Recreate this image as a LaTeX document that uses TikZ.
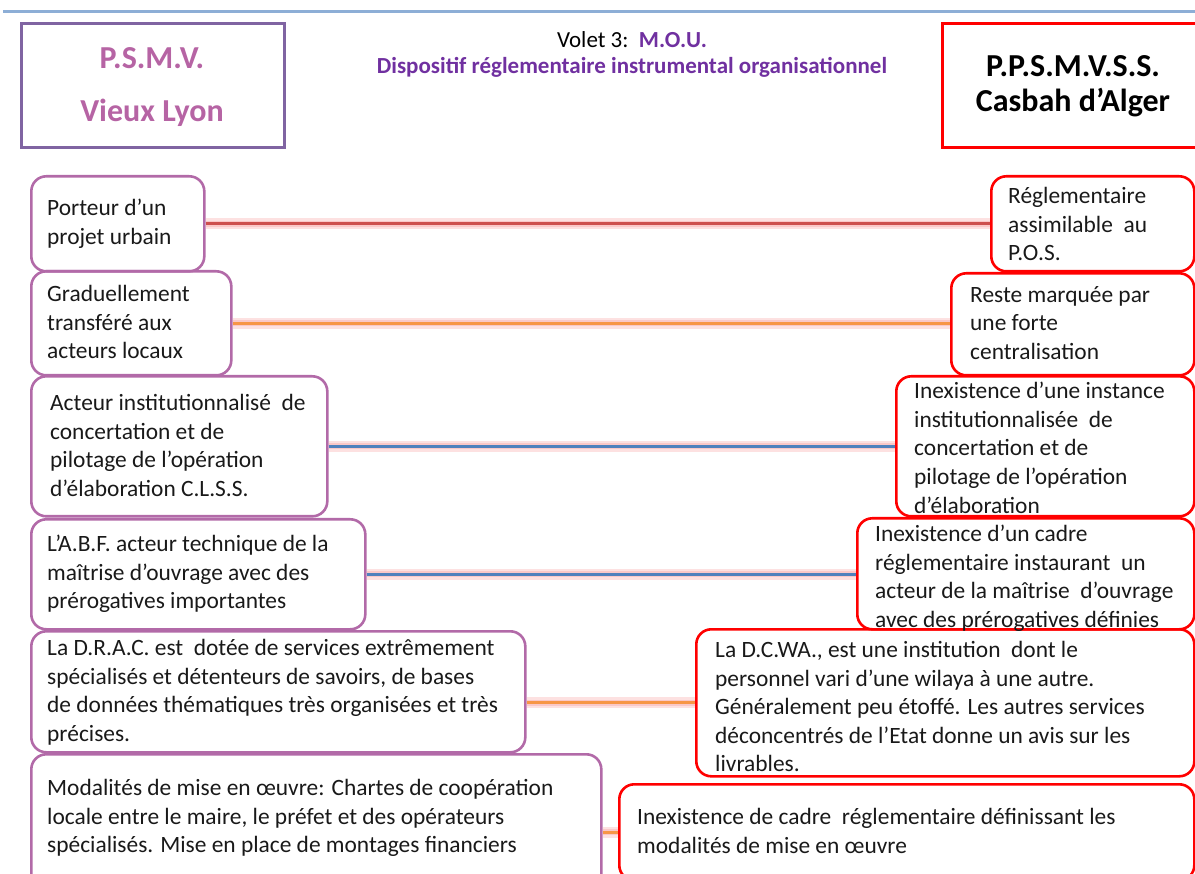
\documentclass[tikz,border=0pt]{standalone}
\usepackage{fontspec}
\setmainfont{Carlito}
\definecolor{rulebl}{RGB}{141,174,214}
\definecolor{hdpurple}{RGB}{128,100,162}
\definecolor{hdtext}{RGB}{182,100,164}
\definecolor{titlepurple}{RGB}{112,48,160}
\definecolor{lpurple}{RGB}{178,106,168}
\definecolor{cred}{RGB}{205,80,78}
\definecolor{corange}{RGB}{247,150,70}
\definecolor{cblue}{RGB}{79,129,189}
\definecolor{glowpink}{RGB}{248,170,170}
\begin{document}
\begin{tikzpicture}[x=1pt,y=-1pt,
  lbox/.style={draw=lpurple,line width=2.6pt,rounded corners=15pt,inner sep=0pt,anchor=north west},
  rbox/.style={draw=red,line width=2.6pt,rounded corners=15pt,inner sep=0pt,anchor=north west},
  hbox/.style={line width=3pt,inner sep=0pt,anchor=north west},
  txt/.style={anchor=north west,inner sep=0pt,align=left,text=black!90,
    font=\fontsize{23.4}{28.6}\selectfont,execute at begin node=\rule{0pt}{17pt}},
  hdtxt/.style={anchor=base,inner sep=0pt,font=\fontsize{32}{36}\selectfont\bfseries},
  glow/.style={line width=11pt,draw=glowpink,opacity=0.35},
  glowin/.style={line width=6pt,draw=glowpink,opacity=0.45},
  link/.style={line width=2.8pt}]
\useasboundingbox (0,0) rectangle (1195,874);
\clip (0,0) rectangle (1195,874);

% top rule
\coordinate (ruleL) at (3,12);
\coordinate (ruleR) at (1195,12);
\draw[rulebl,line width=3pt] (ruleL) -- (ruleR);

% header boxes
\node[hbox,draw=hdpurple,minimum width=263pt,minimum height=124pt] (hl) at (20,22) {};
\node[hdtxt,text=hdtext] (hl1) at (152,69) {P.S.M.V.};
\node[hdtxt,text=hdtext] (hl2) at (152,122) {Vieux Lyon};

\node[hbox,draw=red,minimum width=270pt,minimum height=124pt] (hr) at (941,22) {};
\node[hdtxt,text=black] (hr1) at (1073,77) {P.P.S.M.V.S.S.};
\node[hdtxt,text=black] (hr2) at (1073,112) {Casbah d’Alger};

% title
\node[anchor=base,inner sep=0pt,font=\fontsize{23}{27}\selectfont] (t1) at (632,48)
  {Volet 3:\ \ \textcolor{titlepurple}{\bfseries M.O.U.}};
\node[anchor=base,inner sep=0pt,font=\fontsize{23}{27}\selectfont\bfseries,text=titlepurple] (t2) at (632,74)
  {Dispositif réglementaire instrumental organisationnel};

% left column (Vieux Lyon)
\node[lbox,minimum width=173pt,minimum height=95pt] (l1) at (30,175) {};
\node[lbox,minimum width=200pt,minimum height=104pt] (l2) at (30,270) {};
\node[lbox,minimum width=296pt,minimum height=140pt] (l3) at (30,375) {};
\node[lbox,minimum width=334pt,minimum height=110pt] (l4) at (30,518) {};
\node[lbox,minimum width=494pt,minimum height=121pt] (l5) at (30,630) {};
\node[lbox,minimum width=570pt,minimum height=150pt] (l6) at (30,753) {};

% right column (Casbah d'Alger)
\node[rbox,minimum width=203pt,minimum height=95pt] (r1) at (990,175) {};
\node[rbox,minimum width=243pt,minimum height=102pt] (r2) at (950,272) {};
\node[rbox,minimum width=298pt,minimum height=140pt] (r3) at (895,375) {};
\node[rbox,minimum width=337pt,minimum height=111pt] (r4) at (856,517) {};
\node[rbox,minimum width=498pt,minimum height=147pt] (r5) at (695,628) {};
\node[rbox,minimum width=575pt,minimum height=96pt] (r6) at (618,783) {};

% connectors
\draw[glow] (l1.east) -- (r1.west);
\draw[glowin] (l1.east) -- (r1.west);
\draw[link,cred] (l1.east) -- (r1.west);

\draw[glow] (l2.east) -- (l2.east -| r2.west);
\draw[glowin] (l2.east) -- (l2.east -| r2.west);
\draw[link,corange] (l2.east) -- (l2.east -| r2.west);

\draw[glow] (l3.east) -- (l3.east -| r3.west);
\draw[glowin] (l3.east) -- (l3.east -| r3.west);
\draw[link,cblue] (l3.east) -- (l3.east -| r3.west);

\draw[glow] (l4.east) -- (l4.east -| r4.west);
\draw[glowin] (l4.east) -- (l4.east -| r4.west);
\draw[link,cblue] (l4.east) -- (l4.east -| r4.west);

\draw[glow] (r5.west -| l5.east) -- (r5.west);
\draw[glowin] (r5.west -| l5.east) -- (r5.west);
\draw[link,corange] (r5.west -| l5.east) -- (r5.west);

\draw[glow] (r6.west -| l6.east) -- (r6.west);
\draw[glowin] (r6.west -| l6.east) -- (r6.west);
\draw[link,corange] (r6.west -| l6.east) -- (r6.west);

% left texts
\node[txt] (l1t) at (47,199) {Porteur d’un\\projet urbain};
\node[txt] (l2t) at (47,285) {Graduellement\\transféré aux\\acteurs locaux};
\node[txt] (l3t) at (50,394) {Acteur institutionnalisé\ \ de\\concertation et de\\pilotage de l’opération\\d’élaboration C.L.S.S.};
\node[txt] (l4t) at (47,535) {L’A.B.F. acteur technique de la\\maîtrise d’ouvrage avec des\\prérogatives importantes};
\node[txt] (l5t) at (47,639) {La D.R.A.C. est\ \ dotée de services extrêmement\\spécialisés et détenteurs de savoirs, de bases\\de données thématiques très organisées et très\\précises.};
\node[txt] (l6t) at (47,779) {Modalités de mise en œuvre: Chartes de coopération\\locale entre le maire, le préfet et des opérateurs\\spécialisés. Mise en place de montages financiers};

% right texts
\node[txt] (r1t) at (1008,187) {Réglementaire\\assimilable\ \ au\\P.O.S.};
\node[txt] (r2t) at (970,286) {Reste marquée par\\une forte\\centralisation};
\node[txt] (r3t) at (914,382) {Inexistence d’une instance\\institutionnalisée\ \ de\\concertation et de\\pilotage de l’opération\\d’élaboration};
\node[txt] (r4t) at (875,525) {Inexistence d’un cadre\\réglementaire instaurant\ \ un\\acteur de la maîtrise\ \ d’ouvrage\\avec des prérogatives définies};
\node[txt] (r5t) at (715,641) {La D.C.WA., est une institution\ \ dont le\\personnel vari d’une wilaya à une autre.\\Généralement peu étoffé. Les autres services\\déconcentrés de l’Etat donne un avis sur les\\livrables.};
\node[txt] (r6t) at (637,808) {Inexistence de cadre\ \ réglementaire définissant les\\modalités de mise en œuvre};
\end{tikzpicture}
\end{document}
